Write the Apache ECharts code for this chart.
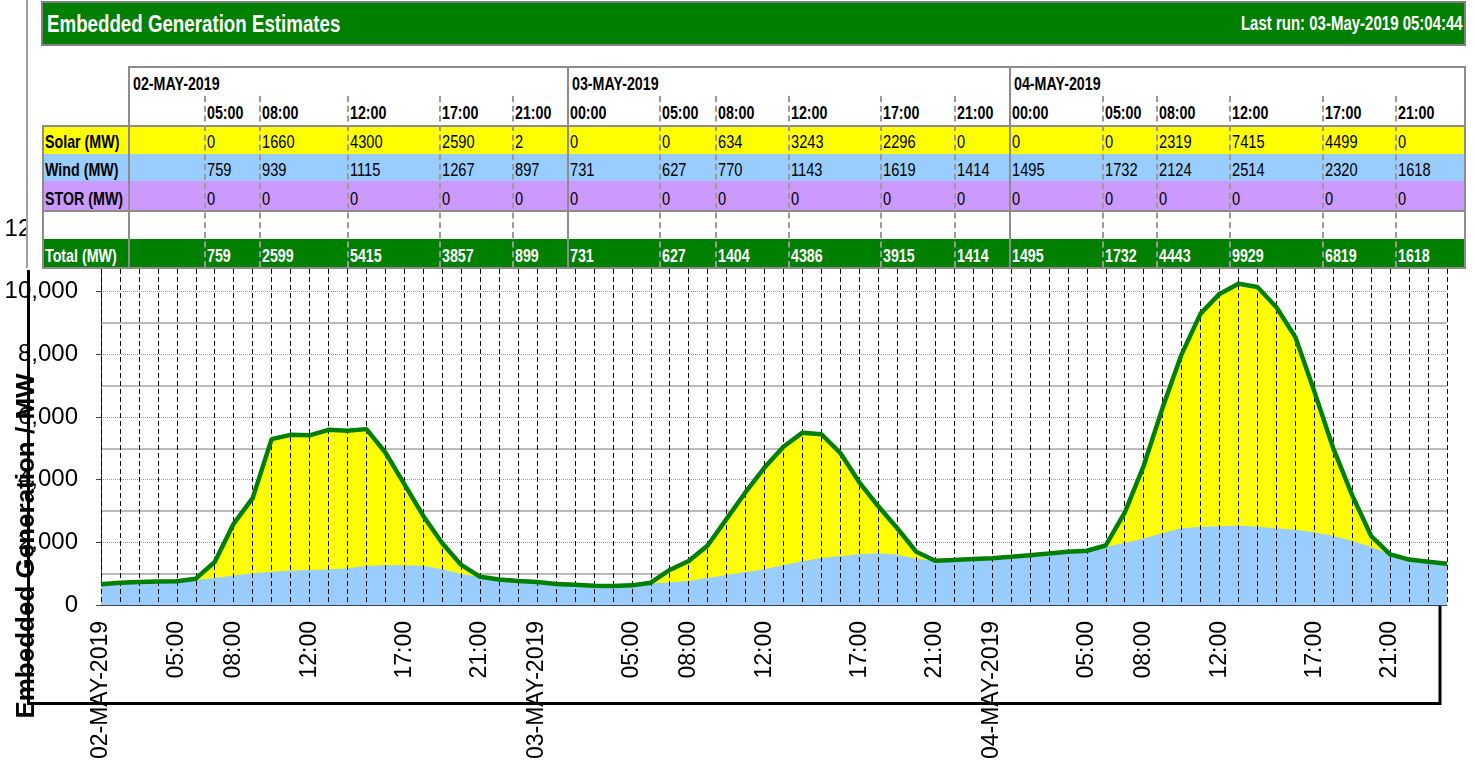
<!DOCTYPE html>
<html>
<head>
<meta charset="utf-8">
<title>Embedded Generation Estimates</title>
<script src="https://cdn.jsdelivr.net/npm/echarts@6/dist/echarts.min.js"></script>
<style>
    body { margin: 0; background: #fff; font-family: "Liberation Sans", Arial, sans-serif; }
    #main { position: absolute; left: 0; top: 0; width: 1475px; height: 772px; }
    #overlay { position: absolute; left: 0; top: 0; width: 1475px; height: 300px; }
    .r { position: absolute; box-sizing: border-box; }
    .t { position: absolute; white-space: nowrap; transform-origin: left center; }
</style>
</head>
<body>
<div id="main"></div>
<div id="overlay"></div>
<script>
// x axis categories (hourly, 02-May 01:00 .. 05-May 00:00)
var hours = ['02-MAY-2019','02:00','03:00','04:00','05:00','06:00','07:00','08:00','09:00','10:00','11:00','12:00',
    '13:00','14:00','15:00','16:00','17:00','18:00','19:00','20:00','21:00','22:00','23:00',
    '03-MAY-2019','01:00','02:00','03:00','04:00','05:00','06:00','07:00','08:00','09:00','10:00','11:00','12:00',
    '13:00','14:00','15:00','16:00','17:00','18:00','19:00','20:00','21:00','22:00','23:00',
    '04-MAY-2019','01:00','02:00','03:00','04:00','05:00','06:00','07:00','08:00','09:00','10:00','11:00','12:00',
    '13:00','14:00','15:00','16:00','17:00','18:00','19:00','20:00','21:00','22:00','23:00','00:00'];
var shownLabels = [0, 4, 7, 11, 16, 20, 23, 28, 31, 35, 40, 44, 47, 52, 55, 59, 64, 68];

// total embedded generation (MW) - green line / top of yellow
var total = [660, 712, 735, 752, 759, 840, 1374, 2599, 3409, 5294,
    5431, 5415, 5591, 5559, 5613, 4866, 3857, 2843, 1971, 1278,
    899, 815, 767, 731, 671, 649, 617, 607, 627, 713,
    1118, 1404, 1900, 2750, 3600, 4386, 5050, 5500, 5450, 4850,
    3915, 3150, 2450, 1700, 1414, 1440, 1465, 1495, 1540, 1590,
    1640, 1700, 1732, 1900, 2950, 4443, 6300, 8000, 9300, 9929,
    10250, 10150, 9500, 8550, 6819, 5000, 3500, 2200, 1618, 1450,
    1380, 1320];
// wind (MW) - blue area
var wind = [660, 712, 735, 752, 759, 800, 862, 939, 1012, 1065,
    1097, 1115, 1130, 1172, 1246, 1278, 1267, 1256, 1140, 990,
    897, 815, 767, 731, 671, 649, 617, 607, 627, 690,
    720, 770, 860, 960, 1050, 1143, 1280, 1400, 1500, 1560,
    1619, 1650, 1600, 1480, 1414, 1440, 1465, 1495, 1540, 1590,
    1640, 1700, 1732, 1850, 1990, 2124, 2300, 2450, 2500, 2514,
    2540, 2500, 2450, 2400, 2320, 2200, 2050, 1850, 1618, 1450,
    1380, 1320];

// table data
var tableDates = ['02-MAY-2019', '03-MAY-2019', '04-MAY-2019'];
var tableTimes = ['05:00','08:00','12:00','17:00','21:00','00:00','05:00','08:00','12:00','17:00','21:00',
    '00:00','05:00','08:00','12:00','17:00','21:00'];
var tableSolar = [0, 1660, 4300, 2590, 2, 0, 0, 634, 3243, 2296, 0, 0, 0, 2319, 7415, 4499, 0];
var tableWind = [759, 939, 1115, 1267, 897, 731, 627, 770, 1143, 1619, 1414, 1495, 1732, 2124, 2514, 2320, 1618];
var tableStor = [0, 0, 0, 0, 0, 0, 0, 0, 0, 0, 0, 0, 0, 0, 0, 0, 0];
var tableTotal = [759, 2599, 5415, 3857, 899, 731, 627, 1404, 4386, 3915, 1414, 1495, 1732, 4443, 9929, 6819, 1618];

// ---------- header + table (html on top of the chart) ----------
var ov = document.getElementById('overlay');
var colX = [204, 259, 347, 439, 512, 567, 659, 715, 788, 880, 954, 1009, 1102, 1156, 1229, 1322, 1395];
var groupX = [128, 567, 1009];

function rect(x, y, w, h, css) {
    var d = document.createElement('div');
    d.className = 'r';
    d.style.left = x + 'px'; d.style.top = y + 'px';
    d.style.width = w + 'px'; d.style.height = h + 'px';
    d.style.cssText += css;
    ov.appendChild(d);
    return d;
}
function text(x, cy, str, size, bold, color, sx, right) {
    var d = document.createElement('div');
    d.className = 't';
    d.textContent = str;
    d.style.fontSize = size + 'px';
    d.style.lineHeight = size + 'px';
    d.style.top = (cy - 0.49 * size) + 'px';
    d.style.fontWeight = bold ? 'bold' : 'normal';
    d.style.color = color;
    d.style.transform = 'scaleX(' + sx + ')';
    if (right) {
        d.style.right = (1475 - x) + 'px';
        d.style.transformOrigin = 'right center';
    } else {
        d.style.left = x + 'px';
    }
    ov.appendChild(d);
}

// white panel behind the header and table, with its gray left rule
rect(27, 0, 1448, 268, 'background:#fff;');
rect(26, 0, 2, 268, 'background:#a0a0a0;');

// title bar
rect(41, 1, 1425, 45, 'background:#008000;border:2px solid #808080;');
text(47, 24, 'Embedded Generation Estimates', 24, true, '#fff', 0.78);
text(1463, 23, 'Last run: 03-May-2019 05:04:44', 20, true, '#fff', 0.75, true);

// table rows
rect(42, 126, 1424, 28, 'background:#ffff00;');
rect(42, 153.5, 1424, 28, 'background:#99ccff;');
rect(42, 181, 1424, 30, 'background:#cc99ff;');
rect(42, 238.5, 1424, 29, 'background:#008000;');
// borders
rect(128, 66, 1338, 2, 'background:#8c8c8c;');
rect(42, 124.5, 1424, 2, 'background:#8c8c8c;');
rect(42, 209.5, 1424, 2, 'background:#8c8c8c;');
rect(42, 267, 1424, 2, 'background:#8c8c8c;');
rect(41.5, 124.5, 2, 144.5, 'background:#8c8c8c;');
rect(1464, 66, 2, 203, 'background:#8c8c8c;');
for (var g = 0; g < groupX.length; g++) {
    rect(groupX[g], 66, 2, 203, 'background:#8c8c8c;');
}
for (var c = 0; c < colX.length; c++) {
    if (groupX.indexOf(colX[c]) < 0) {
        rect(colX[c], 96, 2, 171, 'border-left:2px dashed #9a9a9a;');
    }
}

// texts
for (var g = 0; g < tableDates.length; g++) {
    text(groupX[g] + 5, 83, tableDates[g], 19, true, '#000', 0.75);
}
text(45, 141, 'Solar (MW)', 19, true, '#000', 0.75);
text(45, 169.5, 'Wind (MW)', 19, true, '#000', 0.75);
text(45, 198, 'STOR (MW)', 19, true, '#000', 0.75);
text(45, 255, 'Total (MW)', 19, true, '#fff', 0.75);
for (var c = 0; c < colX.length; c++) {
    var x = colX[c] + 3;
    text(x, 112, tableTimes[c], 19, true, '#000', 0.75);
    text(x, 141, String(tableSolar[c]), 19, false, '#000', 0.77);
    text(x, 169.5, String(tableWind[c]), 19, false, '#000', 0.77);
    text(x, 198, String(tableStor[c]), 19, false, '#000', 0.77);
    text(x, 255, String(tableTotal[c]), 19, true, '#fff', 0.75);
}

// ---------- chart ----------
var myChart = echarts.init(document.getElementById('main'));
var font = '"Liberation Sans", Arial, sans-serif';

var option = {
    animation: false,
    textStyle: { fontFamily: font },
    grid: { left: 101, right: 28, top: 229, bottom: 167 },
    xAxis: {
        type: 'category',
        data: hours,
        boundaryGap: false,
        z: 5,
        axisLine: { lineStyle: { color: '#404040', width: 1 } },
        axisTick: { show: false },
        axisLabel: {
            rotate: 90, margin: 16, fontSize: 23, color: '#000', fontFamily: font,
            interval: function (i) { return shownLabels.indexOf(i) >= 0; }
        },
        splitLine: { show: true, interval: 0, lineStyle: { color: '#000', type: [5, 3], width: 1 } }
    },
    yAxis: {
        type: 'value',
        min: 0, max: 12000, interval: 2000,
        axisLine: { show: true, lineStyle: { color: '#404040' } },
        axisTick: { show: true, length: 5, lineStyle: { color: '#404040' } },
        axisLabel: {
            fontSize: 24, margin: 23, color: '#000', fontFamily: font,
            formatter: function (v) { return v.toLocaleString('en-US'); }
        },
        splitLine: { lineStyle: { color: '#999', type: 'dotted', width: 1 } },
        minorTick: { show: false, splitNumber: 2 },
        minorSplitLine: { show: true, lineStyle: { color: '#a6a6a6', width: 1.5 } }
    },
    series: [
        {
            name: 'Solar', type: 'line', data: total, symbol: 'none', z: 2,
            lineStyle: { width: 0 },
            areaStyle: { color: '#ffff00', opacity: 1 }
        },
        {
            name: 'Wind', type: 'line', data: wind, symbol: 'none', z: 3,
            lineStyle: { width: 0 },
            areaStyle: { color: '#99ccff', opacity: 1 }
        },
        {
            name: 'Total', type: 'line', data: total, symbol: 'none', z: 8,
            lineStyle: { color: '#008000', width: 4.5 }
        }
    ],
    graphic: [
        {
            // outer chart frame (left, bottom, right edges)
            type: 'polyline', z: 50,
            shape: { points: [[28.5, 270], [28.5, 703.5], [1440, 703.5], [1440, 606]] },
            style: { stroke: '#000', lineWidth: 3, fill: null }
        },
        {
            type: 'text', z: 100, x: 27, y: 546, rotation: Math.PI / 2,
            style: {
                text: 'Embedded Generation / MW', fill: '#000',
                font: 'bold 26px "Liberation Sans", Arial, sans-serif',
                align: 'center', verticalAlign: 'middle',
                textAlign: 'center', textVerticalAlign: 'middle'
            }
        }
    ]
};

myChart.setOption(option);
</script>
</body>
</html>
